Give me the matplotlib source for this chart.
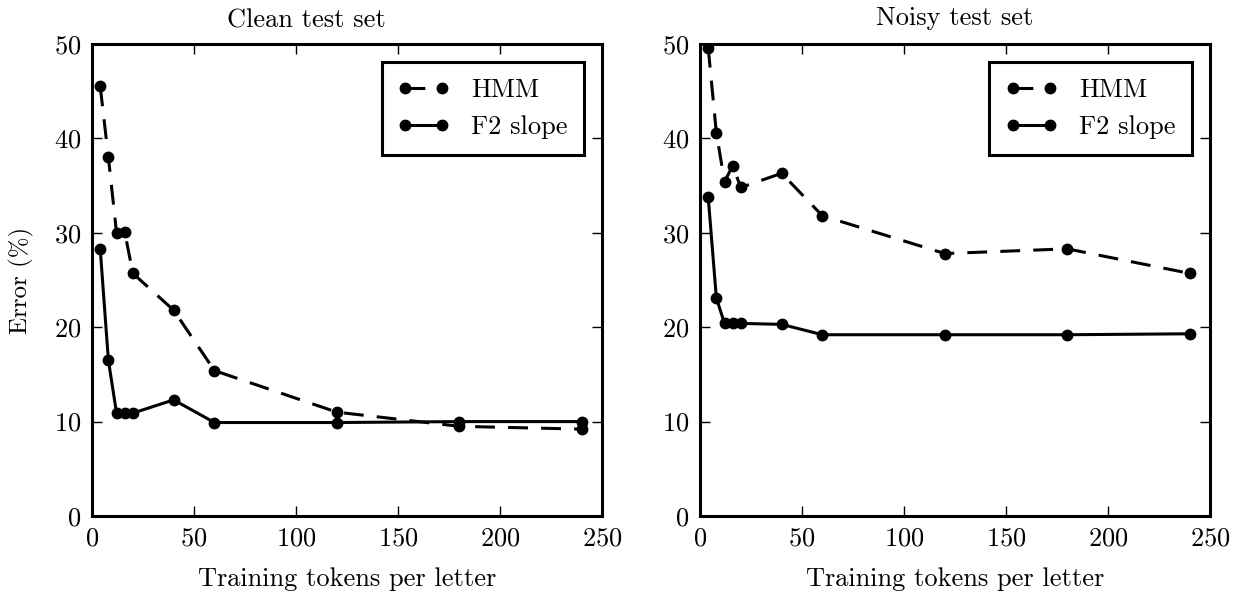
import matplotlib.pyplot as plt

# training tokens per letter
tokens = [4, 8, 12, 16, 20, 40, 60, 120, 180, 240]

# error (%)
clean_hmm = [45.5, 38.0, 30.0, 30.1, 25.7, 21.8, 15.4, 11.0, 9.5, 9.2]
clean_f2 = [28.3, 16.5, 10.9, 10.9, 10.9, 12.3, 9.9, 9.9, 10.0, 10.0]
noisy_hmm = [49.6, 40.6, 35.4, 37.1, 34.8, 36.3, 31.8, 27.8, 28.3, 25.7]
noisy_f2 = [33.8, 23.1, 20.4, 20.4, 20.4, 20.3, 19.2, 19.2, 19.2, 19.3]

titles = ['Clean test set', 'Noisy test set']

plt.rcParams['font.family'] = 'cmr10'
plt.rcParams['axes.formatter.use_mathtext'] = True

fig = plt.figure(figsize=(12.39, 5.92), dpi=100)
ax1 = fig.add_axes([0.0743, 0.1284, 0.4116, 0.7973])
ax2 = fig.add_axes([0.565, 0.1284, 0.4116, 0.7973])

for ax, hmm, f2, title in [(ax1, clean_hmm, clean_f2, titles[0]),
                           (ax2, noisy_hmm, noisy_f2, titles[1])]:
    ax.plot(tokens, hmm, color='black', lw=2.2, dashes=(6.5, 4.3),
            marker='o', ms=7.5, label='HMM')
    ax.plot(tokens, f2, color='black', lw=2.2,
            marker='o', ms=7.5, label='F2 slope')
    ax.set_xlim(0, 250)
    ax.set_ylim(0, 50)
    ax.set_xticks([0, 50, 100, 150, 200, 250])
    ax.set_yticks([0, 10, 20, 30, 40, 50])
    ax.tick_params(direction='in', top=True, right=True, labelsize=19,
                   length=7, width=1, pad=8)
    for s in ax.spines.values():
        s.set_linewidth(2.2)
    ax.set_xlabel('Training tokens per letter', fontsize=19, labelpad=12)
    leg = ax.legend(loc='upper right', fontsize=19, numpoints=2,
                    fancybox=False, edgecolor='black', framealpha=1,
                    handlelength=2.0, handletextpad=0.8, borderpad=0.6,
                    labelspacing=0.5, borderaxespad=0.7)
    leg.get_frame().set_linewidth(2.2)

# left title sits over the whole panel, not just the axes
ax1.set_title(titles[0], fontsize=19, pad=12, x=0.42)
ax2.set_title(titles[1], fontsize=19, pad=14)
ax1.set_ylabel('Error (%)', fontsize=18, labelpad=14)

fig.savefig('out.png', dpi=100)
